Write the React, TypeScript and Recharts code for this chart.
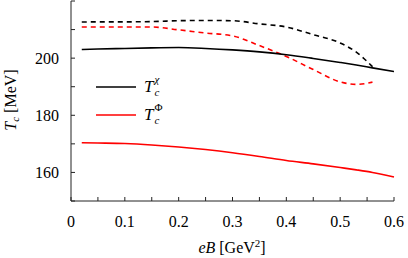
import React from 'react';
import { LineChart, Line, XAxis, YAxis } from 'recharts';

// magnetic field grid (GeV^2)
const eB = [0.02, 0.05, 0.1, 0.15, 0.2, 0.25, 0.3, 0.35, 0.4, 0.45, 0.5, 0.53, 0.56, 0.6];

// T_c^chi (black) and T_c^Phi (red), solid and dashed sets, MeV
const chiSolid = [203.0, 203.2, 203.4, 203.6, 203.7, 203.4, 202.9, 202.2, 201.2, 199.9, 198.5, 197.6, 196.6, 195.3];
const chiDashed = [212.65, 212.7, 212.7, 212.8, 213.1, 213.2, 213.1, 212.0, 210.9, 208.2, 205.3, 202.1, 197.0, null];
const phiSolid = [170.4, 170.3, 170.1, 169.6, 168.9, 168.0, 166.9, 165.6, 164.2, 163.0, 161.7, 160.9, 160.0, 158.4];
const phiDashed = [210.9, 210.9, 210.9, 210.9, 209.9, 208.8, 207.8, 204.4, 200.6, 196.0, 191.7, 190.8, 191.6, null];

const xTicks = [0, 0.05, 0.1, 0.15, 0.2, 0.25, 0.3, 0.35, 0.4, 0.45, 0.5, 0.55, 0.6];
const yTicks = [150, 160, 170, 180, 190, 200, 210, 220];
const yLabels = [160, 180, 200];

const data = eB.map((x, i) => ({
  eB: x,
  chiSolid: chiSolid[i],
  chiDashed: chiDashed[i],
  phiSolid: phiSolid[i],
  phiDashed: phiDashed[i],
}));

const FONT = "'Liberation Serif', serif";
const AXIS = '#222';

const xFmt = (v: number) => {
  const k = Math.round(v * 100);
  if (k % 10 !== 0) return '';
  return k === 0 ? '0' : (k / 100).toString();
};
const yFmt = (v: number) => (yLabels.includes(v) ? String(v) : '');
const blank = () => '';

const Sym = ({ sup }: { sup: string }) => (
  <span style={{ display: 'inline-flex', alignItems: 'center', fontStyle: 'italic' }}>
    <span style={{ fontSize: 17 }}>T</span>
    <span style={{ position: 'relative', width: 10, height: 20, fontSize: 11, marginLeft: 1 }}>
      <span style={{ position: 'absolute', left: 0, top: -3, lineHeight: '11px', fontStyle: sup === 'Φ' ? 'normal' : 'italic' }}>{sup}</span>
      <span style={{ position: 'absolute', left: 0, top: 10, lineHeight: '10px' }}>c</span>
    </span>
  </span>
);

const legendRows = [
  { color: '#000', sup: 'χ' },
  { color: '#ff0000', sup: 'Φ' },
];

export default function App() {
  return (
    <div style={{ position: 'absolute', left: 0, top: 0, width: 408, height: 258, fontFamily: FONT, background: '#fff' }}>
      <LineChart width={408} height={258} data={data} margin={{ top: 1, right: 14, bottom: 0, left: 0 }}>
        <XAxis
          dataKey="eB"
          type="number"
          domain={[0, 0.6]}
          ticks={xTicks}
          interval={0}
          tickFormatter={xFmt}
          height={57}
          tickSize={-4}
          tickMargin={19}
          stroke={AXIS}
          tick={{ fill: '#000', fontSize: 16, fontFamily: FONT }}
        />
        <XAxis
          xAxisId="top"
          orientation="top"
          dataKey="eB"
          type="number"
          domain={[0, 0.6]}
          ticks={xTicks}
          interval={0}
          tickFormatter={blank}
          height={0}
          tickSize={-4}
          stroke={AXIS}
        />
        <YAxis
          type="number"
          domain={[150, 220]}
          ticks={yTicks}
          interval={0}
          tickFormatter={yFmt}
          width={71}
          tickSize={-4}
          tickMargin={16}
          stroke={AXIS}
          tick={{ fill: '#000', fontSize: 16, fontFamily: FONT }}
        />
        <YAxis
          yAxisId="right"
          orientation="right"
          type="number"
          domain={[150, 220]}
          ticks={yTicks}
          interval={0}
          tickFormatter={blank}
          width={0}
          tickSize={-4}
          stroke={AXIS}
        />
        <Line dataKey="chiDashed" type="monotone" stroke="#000" strokeWidth={1.6} strokeDasharray="5 4" dot={false} isAnimationActive={false} />
        <Line dataKey="phiDashed" type="monotone" stroke="#ff0000" strokeWidth={1.6} strokeDasharray="5 4" dot={false} isAnimationActive={false} />
        <Line dataKey="chiSolid" type="monotone" stroke="#000" strokeWidth={1.6} dot={false} isAnimationActive={false} />
        <Line dataKey="phiSolid" type="monotone" stroke="#ff0000" strokeWidth={1.6} dot={false} isAnimationActive={false} />
      </LineChart>
      <div style={{ position: 'absolute', left: 96, top: 73 }}>
        {legendRows.map((r) => (
          <div key={r.sup} style={{ display: 'flex', alignItems: 'center', height: 28 }}>
            <svg width={40} height={4}>
              <line x1={0} x2={40} y1={2} y2={2} stroke={r.color} strokeWidth={1.6} />
            </svg>
            <span style={{ marginLeft: 8 }}>
              <Sym sup={r.sup} />
            </span>
          </div>
        ))}
      </div>
      <div
        style={{
          position: 'absolute',
          left: 11,
          top: 100,
          transform: 'translate(-50%, -50%) rotate(-90deg)',
          whiteSpace: 'nowrap',
          fontSize: 16,
        }}
      >
        <i>T</i>
        <i style={{ fontSize: 11, verticalAlign: -3 }}>c</i> [MeV]
      </div>
      <div
        style={{
          position: 'absolute',
          left: 232,
          top: 247,
          transform: 'translate(-50%, -50%)',
          whiteSpace: 'nowrap',
          fontSize: 16,
        }}
      >
        <i>eB</i> [GeV<sup style={{ fontSize: 11, verticalAlign: 6 }}>2</sup>]
      </div>
    </div>
  );
}
